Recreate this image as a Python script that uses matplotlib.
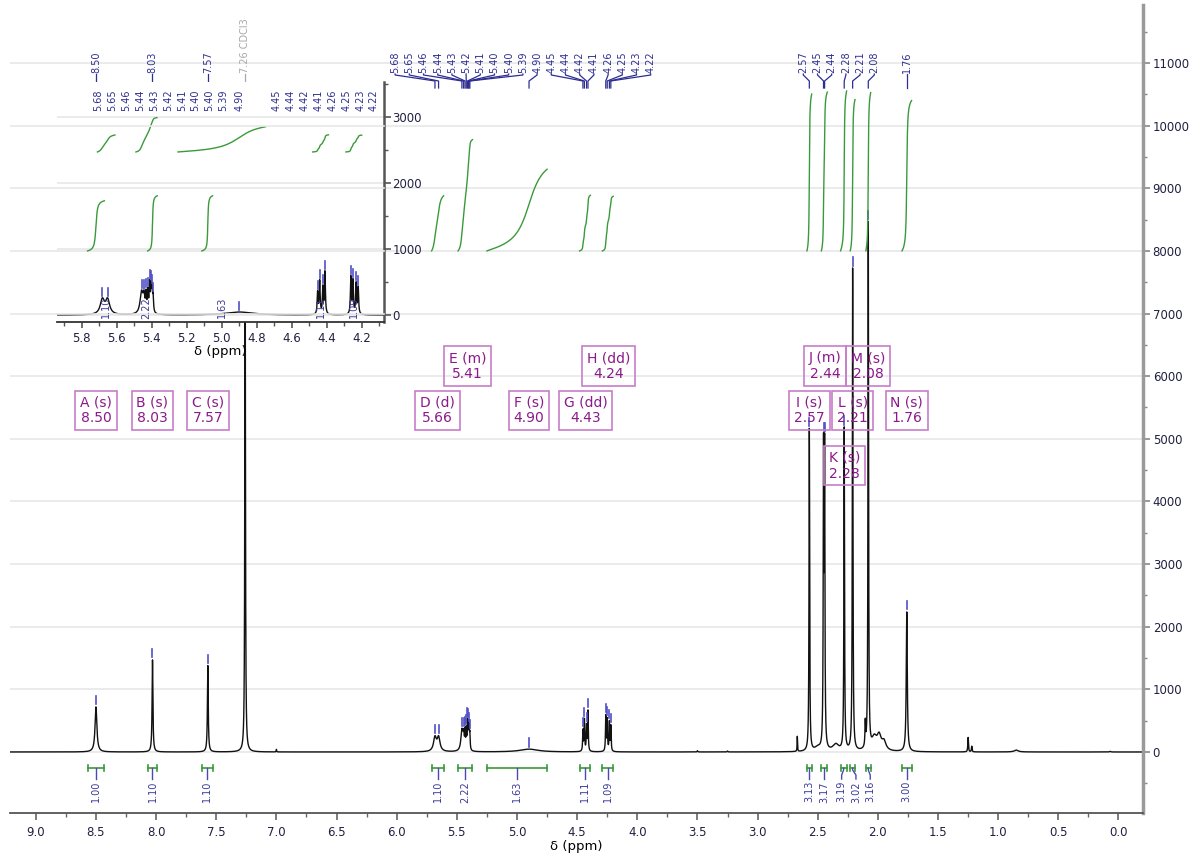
import numpy as np
import matplotlib
matplotlib.use("Agg")
import matplotlib.pyplot as plt
from matplotlib.lines import Line2D
from matplotlib.ticker import MultipleLocator, FormatStrFormatter

# picked (labelled) peaks: position in ppm, height, half width
pick_ppm = [8.50, 8.03, 7.57,
            5.682, 5.652, 5.458, 5.444, 5.432, 5.422, 5.412, 5.404, 5.398, 5.392,
            4.90, 4.452, 4.440, 4.422, 4.410, 4.262, 4.250, 4.232, 4.220,
            2.57, 2.452, 2.443, 2.28, 2.21, 2.08, 1.76]
pick_height = [720, 1470, 1380,
               220, 220, 330, 230, 260, 300, 420, 360, 300, 230,
               45, 330, 500, 400, 640, 560, 500, 460, 400,
               5150, 4600, 4600, 5150, 7700, 8400, 2230]
pick_width = [0.009, 0.004, 0.004,
              0.014, 0.014, 0.010, 0.006, 0.003, 0.003, 0.003, 0.003, 0.003, 0.003,
              0.09, 0.003, 0.003, 0.003, 0.003, 0.003, 0.003, 0.003, 0.003,
              0.003, 0.003, 0.003, 0.003, 0.003, 0.003, 0.005]

# other signals (solvent, impurities, baseline humps)
extra_ppm = [7.26, 7.00, 3.50, 3.25, 2.67, 2.50, 2.35, 2.105, 2.03, 1.99, 1.95, 1.25, 1.22, 0.85, 0.07]
extra_height = [9000, 40, 20, 15, 240, 60, 110, 380, 200, 220, 140, 230, 90, 30, 10]
extra_width = [0.003, 0.002, 0.003, 0.003, 0.002, 0.03, 0.03, 0.003, 0.025, 0.02, 0.02,
               0.003, 0.003, 0.02, 0.005]

# multiplet report boxes
mult_name = ['A (s)', 'B (s)', 'C (s)', 'D (d)', 'E (m)', 'F (s)', 'G (dd)', 'H (dd)',
             'I (s)', 'J (m)', 'K (s)', 'L (s)', 'M (s)', 'N (s)']
mult_ppm = [8.50, 8.03, 7.57, 5.66, 5.41, 4.90, 4.43, 4.24, 2.57, 2.44, 2.28, 2.21, 2.08, 1.76]
box_row = [0, 0, 0, 0, 1, 0, 0, 1, 0, 1, 2, 0, 1, 0]

# integrals
int_start = [8.57, 8.07, 7.62, 5.71, 5.49, 5.25, 4.48, 4.29, 2.59, 2.47, 2.31, 2.23, 2.10, 1.80]
int_end = [8.43, 7.99, 7.53, 5.61, 5.37, 4.75, 4.39, 4.20, 2.55, 2.42, 2.26, 2.19, 2.06, 1.72]
int_value = [1.00, 1.10, 1.10, 1.10, 2.22, 1.63, 1.11, 1.09, 3.13, 3.17, 3.19, 3.02, 3.16, 3.00]

W, H = 1192, 855
BLUE = '#2e2e92'
GREEN = '#3a9a3a'

ppm = np.linspace(9.4, -0.4, 50000)
spec = np.zeros_like(ppm)
for p, h, w in zip(pick_ppm + extra_ppm, pick_height + extra_height, pick_width + extra_width):
    spec += h / (1 + ((ppm - p) / w) ** 2)


def height_at(p):
    return np.interp(-p, -ppm, spec)


def integral_curve(a, b, value, base, scale):
    m = (ppm <= a) & (ppm >= b)
    c = np.cumsum(spec[m])
    return ppm[m], base + value * scale * c / c[-1]


def spread(targets, gap, lo, hi):
    groups = [[i] for i in range(len(targets))]

    def place(g):
        start = (targets[g[0]] + targets[g[-1]]) / 2 - gap * (len(g) - 1) / 2
        start = max(start, lo)
        return min(start, hi - gap * (len(g) - 1))

    merged = True
    while merged:
        merged = False
        for k in range(len(groups) - 1):
            a, b = groups[k], groups[k + 1]
            if place(b) - (place(a) + gap * (len(a) - 1)) < gap - 1e-6:
                groups[k] = a + b
                del groups[k + 1]
                merged = True
                break
    pos = []
    for g in groups:
        s = place(g)
        pos += [s + gap * j for j in range(len(g))]
    return pos


fig = plt.figure(figsize=(W / 100, H / 100), dpi=100)

# ---- main spectrum
main_rect = [10 / W, 1 - 813 / H, 1133 / W, 808 / H]
xlim = (9.2145, -0.2037)
ylim = (-974, 11926)
ax = fig.add_axes(main_rect, zorder=1)
ax.plot(ppm, spec, color='#111111', lw=1.0)
ax.set_xlim(*xlim)
ax.set_ylim(*ylim)
for s in ['left', 'top']:
    ax.spines[s].set_visible(False)
ax.spines['right'].set_color('#9a9a9a')
ax.spines['right'].set_linewidth(2.5)
ax.spines['bottom'].set_color('#555555')
ax.spines['bottom'].set_linewidth(1.3)
ax.yaxis.tick_right()
ax.xaxis.set_major_locator(MultipleLocator(0.5))
ax.xaxis.set_minor_locator(MultipleLocator(0.25))
ax.xaxis.set_major_formatter(FormatStrFormatter('%.1f'))
ax.yaxis.set_major_locator(MultipleLocator(1000))
ax.yaxis.set_minor_locator(MultipleLocator(500))
ax.tick_params(axis='x', which='major', length=5, width=1.2, color='#666666',
               labelsize=8.5, labelcolor='#202040', pad=4)
ax.tick_params(axis='x', which='minor', length=3, width=1.0, color='#666666')
ax.tick_params(axis='y', which='major', length=5, width=1.2, color='#888888',
               labelsize=8.5, labelcolor='#202040', pad=2)
ax.tick_params(axis='y', which='minor', length=3, width=1.0, color='#888888')
ax.yaxis.grid(True, color='#e8e8e8', lw=1.2)
ax.set_axisbelow(True)
ax.set_xlabel('δ (ppm)', fontsize=9.5, labelpad=1)
for p in pick_ppm:
    h = height_at(p)
    ax.plot([p, p], [h + 40, h + 170], color='#5050c8', lw=1.2)

# ---- inset
ins_rect = [57 / W, 1 - 322 / H, 327 / W, 240 / H]
ins = fig.add_axes(ins_rect, zorder=2)
ins.set_facecolor('white')
ins.plot(ppm, spec, color='#111111', lw=1.0)
ins.set_xlim(5.941, 4.0726)
ins.set_ylim(-106, 3530)
for s in ['left', 'top']:
    ins.spines[s].set_visible(False)
ins.spines['right'].set_color('#555555')
ins.spines['right'].set_linewidth(1.8)
ins.spines['bottom'].set_color('#333333')
ins.spines['bottom'].set_linewidth(1.3)
ins.yaxis.tick_right()
ins.xaxis.set_major_locator(MultipleLocator(0.2))
ins.xaxis.set_minor_locator(MultipleLocator(0.1))
ins.xaxis.set_major_formatter(FormatStrFormatter('%.1f'))
ins.yaxis.set_major_locator(MultipleLocator(1000))
ins.yaxis.set_minor_locator(MultipleLocator(500))
ins.tick_params(axis='x', which='major', length=4, width=1.2, color='#555555',
                labelsize=8.5, labelcolor='#202040', pad=3)
ins.tick_params(axis='x', which='minor', length=3, width=1.0, color='#555555')
ins.tick_params(axis='y', which='major', length=5, width=1.2, color='#555555',
                labelsize=8.5, labelcolor='#202040', pad=1)
ins.tick_params(axis='y', which='minor', length=3, width=1.0, color='#555555')
ins.yaxis.grid(True, color='#e8e8e8', lw=1.2)
ins.set_axisbelow(True)
ins.set_xlabel('δ (ppm)', fontsize=9.5, labelpad=0)
ins_picks = [p for p in pick_ppm if 4.07 < p < 5.94]
for p in ins_picks:
    h = height_at(p)
    ins.plot([p, p], [h + 25, h + 150], color='#5050c8', lw=1.2)
for a, b, v in zip(int_start, int_end, int_value):
    if a < 5.94 and b > 4.07:
        xs, ys = integral_curve(a, b, v, 2470, 234)
        ins.plot(xs, ys, color=GREEN, lw=1.0)

# ---- overlay: main integrals, grid over the inset, multiplet boxes
ov = fig.add_axes(main_rect, zorder=3)
ov.set_xlim(*xlim)
ov.set_ylim(*ylim)
ov.patch.set_visible(False)
ov.axis('off')
for v in range(7000, 11000, 1000):
    ov.axhline(v, xmin=47 / 1133, xmax=374 / 1133, color='#e8e8e8', lw=1.2, zorder=0)
for a, b, v in zip(int_start, int_end, int_value):
    xs, ys = integral_curve(a, b, v, 8000, 800)
    ov.plot(xs, ys, color=GREEN, lw=1.0)
row_y = [5450, 6160, 4570]
for name, p, r in zip(mult_name, mult_ppm, box_row):
    ov.text(p, row_y[r], f'{name}\n{p:.2f}', ha='center', va='center', fontsize=10,
            color='#8b1a8b', linespacing=1.15,
            bbox=dict(boxstyle='square,pad=0.35', fc='none', ec='#c77dc7', lw=1.2))


def fy(py):
    return 1 - py / H


def peak_labels(axes, ppms, texts, colors, bottom, y1, y2, y3, gap, hi):
    targets = [axes.transData.transform((p, 0))[0] for p in ppms]
    pos = spread(targets, gap, targets[0] - 4, hi)
    for t, x, s, c in zip(targets, pos, texts, colors):
        fig.add_artist(Line2D([x / W, x / W, t / W, t / W],
                              [fy(bottom + 1), fy(y1), fy(y2), fy(y3)],
                              transform=fig.transFigure, color=c, lw=0.9))
        fig.text(x / W, fy(bottom), s, rotation=90, ha='center', va='bottom',
                 fontsize=7, color=c)


def integral_labels(axes, starts, ends, values, ybr, y1, y2, y3, ytext, gap, hi):
    xa = [axes.transData.transform((p, 0))[0] for p in starts]
    xb = [axes.transData.transform((p, 0))[0] for p in ends]
    centers = [(a + b) / 2 for a, b in zip(xa, xb)]
    pos = spread(centers, gap, centers[0] - 4, hi)
    for a, b, t, x, v in zip(xa, xb, centers, pos, values):
        fig.add_artist(Line2D([a / W, b / W], [fy(ybr), fy(ybr)],
                              transform=fig.transFigure, color=GREEN, lw=1.2))
        for e in (a, b):
            fig.add_artist(Line2D([e / W, e / W], [fy(ybr - 3), fy(ybr + 3)],
                                  transform=fig.transFigure, color=GREEN, lw=1.2))
        fig.add_artist(Line2D([t / W, t / W, x / W, x / W],
                              [fy(ybr), fy(y1), fy(y2), fy(y3)],
                              transform=fig.transFigure, color='#4a4ab0', lw=1.0))
        fig.text(x / W, fy(ytext), f'{v:.2f}', rotation=90, ha='center', va='top',
                 fontsize=7, color='#3a3a9a')


# main peak labels (with solvent)
main_ppms = sorted(pick_ppm + [7.26], reverse=True)
main_texts = ['7.26 CDCl3' if p == 7.26 else f'{p:.2f}' for p in main_ppms]
main_colors = ['#a8a8a8' if p == 7.26 else BLUE for p in main_ppms]
peak_labels(ax, main_ppms, main_texts, main_colors, 73, 75, 81, 88, 14.2, 1133)

# inset peak labels
peak_labels(ins, ins_picks, [f'{p:.2f}' for p in ins_picks], [BLUE] * len(ins_picks),
            111, 114, 122, 126, 13.9, 374)

# main integral labels
integral_labels(ax, int_start, int_end, int_value, 768, 770, 775, 779, 781, 14.3, 1133)

# inset integral labels
sel = [i for i in range(len(int_value)) if int_start[i] < 5.94 and int_end[i] > 4.07]
integral_labels(ins, [int_start[i] for i in sel], [int_end[i] for i in sel],
                [int_value[i] for i in sel], 287, 289, 292, 295, 297, 13.9, 374)

fig.savefig('out.png', dpi=100)
